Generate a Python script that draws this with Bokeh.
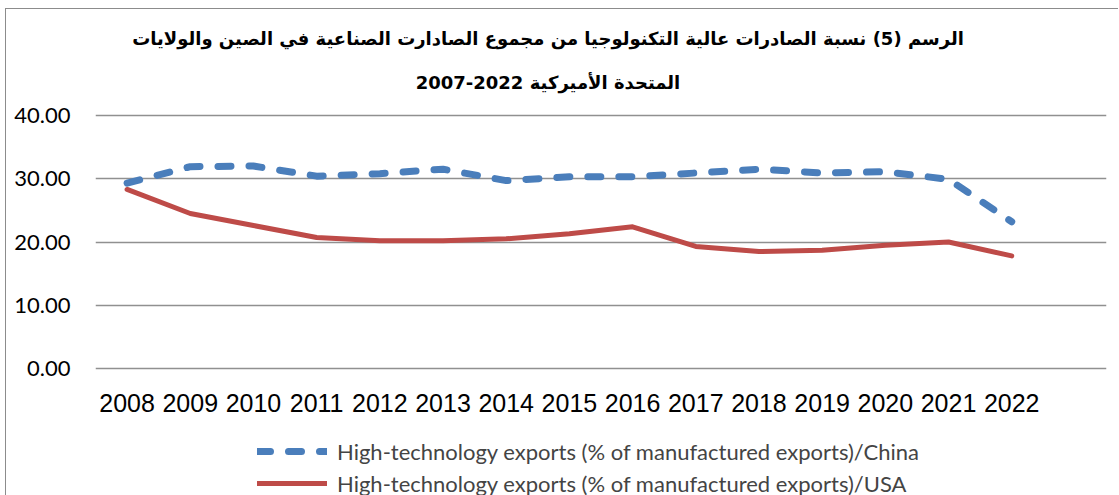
from bokeh.plotting import figure
from bokeh.models import (FactorRange, Range1d, Legend, LegendItem, Div,
                          NumeralTickFormatter, FixedTicker)
from bokeh.layouts import column
from bokeh.embed import file_html
from bokeh.resources import INLINE

years = ["2008", "2009", "2010", "2011", "2012", "2013", "2014", "2015",
         "2016", "2017", "2018", "2019", "2020", "2021", "2022"]
china = [29.3, 31.9, 32.0, 30.4, 30.8, 31.5, 29.7, 30.3, 30.3, 30.9, 31.5, 30.9, 31.1, 29.9, 23.2]
usa = [28.3, 24.5, 22.6, 20.7, 20.2, 20.2, 20.5, 21.3, 22.4, 19.3, 18.5, 18.7, 19.5, 20.0, 17.8]
y_ticks = [0, 10, 20, 30, 40]
title_lines = ["الرسم (5) نسبة الصادرات عالية التكنولوجيا من مجموع الصادارت الصناعية في الصين والولايات",
               "المتحدة الأميركية 2022-2007"]
legend_labels = ["High-technology exports (% of manufactured exports)/China",
                 "High-technology exports (% of manufactured exports)/USA"]

CHINA_STYLE = dict(line_color="#4A7EBB", line_width=7, line_dash="13 18", line_cap="round", line_join="round")
USA_STYLE = dict(line_color="#BE4B48", line_width=5, line_cap="round", line_join="round")

title_div = Div(
    text="<br>".join(title_lines), width=1112, height=86, margin=0,
    styles={"text-align": "center", "direction": "rtl", "font-family": "'DejaVu Sans', sans-serif",
            "font-weight": "bold", "font-size": "18px", "line-height": "44px",
            "padding-top": "8px", "padding-right": "28px", "white-space": "nowrap",
            "color": "black", "box-sizing": "border-box", "overflow": "visible"})

x_range = FactorRange(factors=years + [" "], range_padding=0)
y_range = Range1d(-0.3, 40.3)

p = figure(width=1112, height=324, output_backend="svg", toolbar_location=None,
           x_range=x_range, y_range=y_range,
           min_border_left=89, min_border_right=12, min_border_top=18, min_border_bottom=48)
p.outline_line_color = None
p.background_fill_color = "white"
p.border_fill_color = "white"

p.line(years, china, **CHINA_STYLE)
p.line(years, usa, **USA_STYLE)

p.xgrid.grid_line_color = None
p.ygrid.grid_line_color = "#909090"
p.ygrid.grid_line_width = 1.5
p.yaxis.ticker = FixedTicker(ticks=y_ticks)
p.yaxis.formatter = NumeralTickFormatter(format="0.00")
for ax in (p.xaxis, p.yaxis):
    ax.axis_line_color = None
    ax.major_tick_line_color = None
    ax.minor_tick_line_color = None
    ax.major_tick_out = 0
    ax.major_tick_in = 0
    ax.major_label_text_color = "black"
p.yaxis.major_label_text_font = "Lato"
p.yaxis.major_label_text_font_size = "22px"
p.yaxis.major_label_standoff = 25
p.xaxis.major_label_text_font = "Liberation Sans"
p.xaxis.major_label_text_font_size = "25px"
p.xaxis.major_label_standoff = 18
p.xaxis.group_text_color = None

# legend strip below the chart (its own figure, the series keys drawn from the same data)
lf = figure(width=1112, height=76, output_backend="svg", toolbar_location=None,
            x_range=x_range, y_range=y_range, x_axis_type=None, y_axis_type=None,
            min_border_left=0, min_border_right=0, min_border_top=0, min_border_bottom=0)
lf.outline_line_color = None
lf.grid.grid_line_color = None
k1 = lf.line(years, china, visible=False, **CHINA_STYLE)
k2 = lf.line(years, usa, visible=False, **USA_STYLE)
legend = Legend(items=[LegendItem(label=legend_labels[0], renderers=[k1]),
                       LegendItem(label=legend_labels[1], renderers=[k2])],
                location=(162, -3), orientation="vertical",
                glyph_width=70, glyph_height=30, label_height=30, label_standoff=10,
                spacing=2, padding=0, margin=0,
                label_text_font="Lato", label_text_font_size="22px",
                border_line_color=None, background_fill_alpha=0)
lf.add_layout(legend, "center")

lay = column(title_div, p, lf, spacing=0, margin=(8, 0, 0, 5),
             styles={"border-top": "1px solid #8c8c8c", "border-left": "1px solid #8c8c8c"})

open("out.html", "w").write(file_html(lay, INLINE))
